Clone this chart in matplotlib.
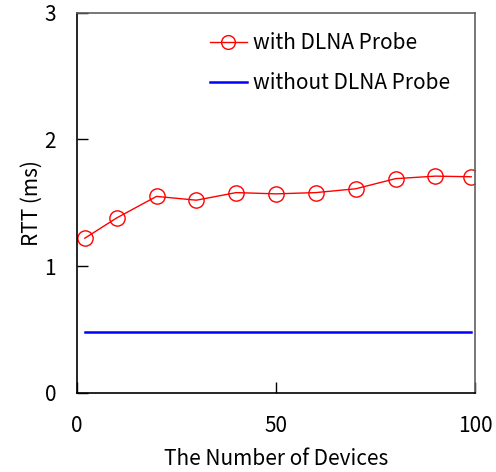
import matplotlib
matplotlib.use("Agg")
import matplotlib.pyplot as plt

plt.rcParams['font.family'] = ['Noto Sans CJK JP', 'DejaVu Sans']

devices = [2, 10, 20, 30, 40, 50, 60, 70, 80, 90, 99]
rtt_with = [1.22, 1.38, 1.55, 1.52, 1.58, 1.57, 1.58, 1.61, 1.69, 1.71, 1.705]
devices_without = [2, 99]
rtt_without = [0.48, 0.48]

fig = plt.figure(figsize=(4.96, 4.72), dpi=100)
ax = fig.add_axes([0.155, 0.168, 0.803, 0.805])

ax.plot(devices, rtt_with, color='#ff0000', lw=1.0, marker='o', ms=11,
        mfc='none', mec='#ff0000', mew=1.0, label='with DLNA Probe')
ax.plot(devices_without, rtt_without, color='#0000ff', lw=1.8,
        label='without DLNA Probe')

ax.set_xlim(0, 100)
ax.set_ylim(0, 3)
ax.set_xticks([0, 50, 100])
ax.set_yticks([0, 1, 2, 3])
ax.tick_params(direction='in', length=8, width=1, labelsize=15, color='black')
ax.tick_params(axis='x', pad=16)
ax.tick_params(axis='y', pad=15)
for s in ['left', 'bottom']:
    ax.spines[s].set_color('black')
    ax.spines[s].set_linewidth(1.2)
for s in ['top', 'right']:
    ax.spines[s].set_color('#606060')
    ax.spines[s].set_linewidth(1.2)

ax.set_xlabel('The Number of Devices', fontsize=15, labelpad=8)
ax.set_ylabel('RTT (ms)', fontsize=15, labelpad=1)

leg = ax.legend(loc='upper right', frameon=False, fontsize=15,
                handlelength=1.8, handletextpad=0.3, labelspacing=0.85,
                markerscale=0.9, bbox_to_anchor=(0.985, 0.998))

fig.savefig('out.png', dpi=100)
